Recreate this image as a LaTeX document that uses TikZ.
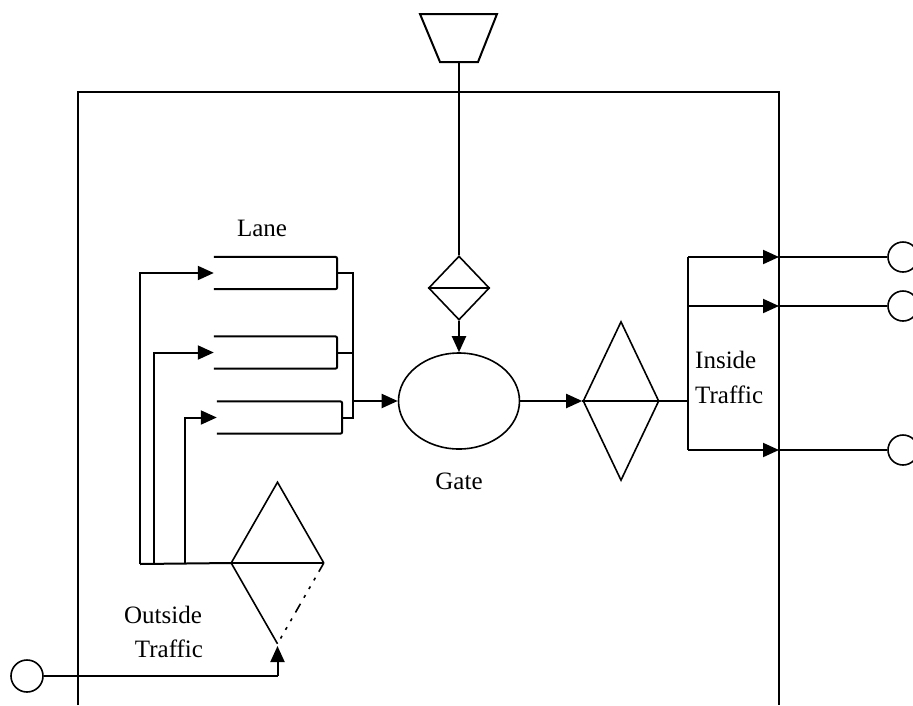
\documentclass[tikz,border=0pt]{standalone}
\usepackage{fontspec}
\setmainfont{Liberation Serif}
\usetikzlibrary{shapes.geometric,arrows.meta}
\begin{document}
\begin{tikzpicture}[x=1pt,y=-1pt,
  ln/.style={line width=2pt},
  arr/.style={ln,-{Triangle[length=16pt,width=14pt]}},
  lbl/.style={font=\fontsize{25}{30}\selectfont, inner sep=0pt},
  lanebox/.style={rectangle,draw=none,inner sep=0pt,minimum height=32pt},
  dia/.style={diamond,draw,line width=1.6pt,inner sep=0pt},
  port/.style={circle,draw,line width=1.6pt,inner sep=0pt,minimum size=30pt}]
\useasboundingbox (0,0) rectangle (913,705);

% system boundary
\coordinate (bl) at (78,705);
\coordinate (tl) at (78,92);
\coordinate (tr) at (779,92);
\coordinate (br) at (779,705);
\draw[ln] (bl)--(tl)--(tr)--(br);

% source trapezoid
\draw[ln] (420,14)--(497,14)--(478,62)--(440,62)--cycle;
\coordinate (trapb) at (459,62);

% small diamond above gate
\node[dia,minimum width=61pt,minimum height=64pt] (sd) at (459,288) {};
\draw[ln] (sd.west)--(sd.east);
\draw[ln] (trapb)--(sd.north);

% gate
\node[ellipse,draw,line width=1.6pt,minimum width=121pt,minimum height=96pt] (gate) at (459,401) {};
\node[lbl] (gatel) at (459,481) {Gate};
\draw[arr] (sd.south)--(gate.north);

% lanes
\node[lanebox,minimum width=123pt] (l1) at (275.5,273) {};
\node[lanebox,minimum width=123pt] (l2) at (275.5,352.5) {};
\node[lanebox,minimum width=125pt] (l3) at (279.5,417.5) {};
\foreach \l in {l1,l2,l3}
  \draw[ln,rounded corners=2pt] (\l.north west)--(\l.north east)--(\l.south east)--(\l.south west);
\node[lbl] (lanel) at (262,228) {Lane};

\coordinate (j1) at (353,273);
\coordinate (j3) at (353,417.5);
\coordinate (jg) at (353,401);
\draw[ln] (l1.east)--(j1)--(j3)--(l3.east);
\draw[ln] (l2.east)--(l2.east -| j1);
\draw[arr] (jg)--(gate.west);

% outside traffic diamond
\node[dia,draw=none,minimum width=91pt,minimum height=160pt] (od) at (277.5,563) {};
\draw[line width=1.6pt] (od.east)--(od.north)--(od.west)--(od.south);
\draw[line width=1.6pt,dash pattern=on 10pt off 7pt on 3pt off 7pt on 3pt off 7pt on 3pt off 7pt] (od.east)--(od.south);
\draw[ln] (od.west)--(od.east);

% feeders to lanes
\coordinate (f1) at (140,564);
\coordinate (f2) at (154,564);
\coordinate (f3) at (185,564);
\draw[ln] (f1)--(od.west);
\draw[arr] (f1)--(f1 |- l1.west)--(l1.west);
\draw[arr] (f2)--(f2 |- l2.west)--(l2.west);
\draw[arr] (f3)--(f3 |- l3.west)--(l3.west);

% outside source
\node[port,minimum size=32pt] (c0) at (27,676) {};
\coordinate (ob) at (277.5,676);
\coordinate (obt) at (277.5,646);
\draw[ln] (c0.east)--(ob);
\draw[arr] (ob)--(obt);
\node[lbl,align=center] (outl) at (163,632) {Outside\\[4pt]\hspace*{12pt}Traffic};

% inside traffic diamond
\node[dia,minimum width=76pt,minimum height=159pt] (rd) at (621,401) {};
\draw[ln] (rd.west)--(rd.east);
\draw[arr] (gate.east)--(rd.west);

% inside traffic bracket
\coordinate (b1) at (688,257);
\coordinate (b2) at (688,306);
\coordinate (b3) at (688,450);
\coordinate (bm) at (688,401);
\draw[ln] (rd.east)--(bm);
\draw[ln] (b1)--(b3);
\node[lbl,align=left,anchor=west] (inl) at (695,377) {Inside\\[5pt]Traffic};

\node[port] (c1) at (903,257) {};
\node[port] (c2) at (903,306) {};
\node[port] (c3) at (903,450) {};
\coordinate (e1) at (779,257);
\coordinate (e2) at (779,306);
\coordinate (e3) at (779,450);
\draw[arr] (b1)--(e1);
\draw[arr] (b2)--(e2);
\draw[arr] (b3)--(e3);
\draw[ln] (e1)--(c1.west);
\draw[ln] (e2)--(c2.west);
\draw[ln] (e3)--(c3.west);
\end{tikzpicture}
\end{document}
